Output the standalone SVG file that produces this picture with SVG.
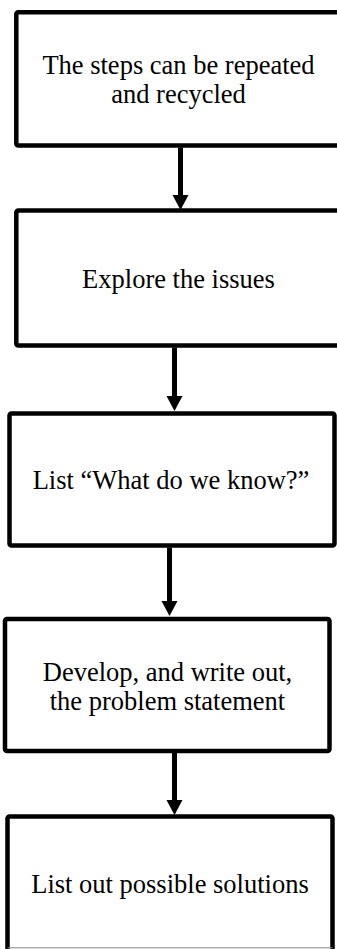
<svg xmlns="http://www.w3.org/2000/svg" width="337" height="949" viewBox="0 0 337 949">
<style>
.box{fill:#fff;stroke:#000;stroke-width:4.5;stroke-linejoin:round}
.lbl{font-family:"Liberation Serif","Times New Roman",serif;font-size:26.5px;fill:#000;text-anchor:middle}
.conn{stroke:#000;stroke-width:5;fill:none}
</style>
<defs>
<marker id="ah" markerUnits="userSpaceOnUse" markerWidth="16" markerHeight="16" refX="0" refY="8" orient="auto" overflow="visible">
<path d="M0,0 L15,8 L0,16 Z" fill="#000"/>
</marker>
</defs>
<rect width="337" height="949" fill="#fff"/>
<g id="n1">
<rect class="box" x="16.3" y="12.3" width="330" height="133.2" rx="2"/>
<text class="lbl" x="178.5" y="74">The steps can be repeated</text>
<text class="lbl" x="178.5" y="103">and recycled</text>
</g>
<g id="n2">
<rect class="box" x="16.3" y="210.5" width="330" height="135" rx="2"/>
<text class="lbl" x="178.5" y="288">Explore the issues</text>
</g>
<g id="n3">
<rect class="box" x="9.5" y="413.5" width="325" height="132" rx="2"/>
<text class="lbl" x="171" y="489">List “What do we know?”</text>
</g>
<g id="n4">
<rect class="box" x="5" y="619" width="324.5" height="132" rx="2"/>
<text class="lbl" x="167.5" y="681">Develop, and write out,</text>
<text class="lbl" x="167.5" y="710">the problem statement</text>
</g>
<g id="n5">
<rect class="box" x="7.5" y="816.5" width="325" height="140" rx="2"/>
<line x1="7.5" y1="947.8" x2="332.5" y2="947.8" stroke="#888" stroke-width="1"/>
<text class="lbl" x="170" y="893">List out possible solutions</text>
</g>
<g id="connectors">
<line class="conn" x1="180.5" y1="147.5" x2="180.5" y2="195" marker-end="url(#ah)"/>
<line class="conn" x1="174.5" y1="347.5" x2="174.5" y2="396" marker-end="url(#ah)"/>
<line class="conn" x1="169.5" y1="547.5" x2="169.5" y2="601" marker-end="url(#ah)"/>
<line class="conn" x1="174.5" y1="753" x2="174.5" y2="800" marker-end="url(#ah)"/>
</g>
</svg>
